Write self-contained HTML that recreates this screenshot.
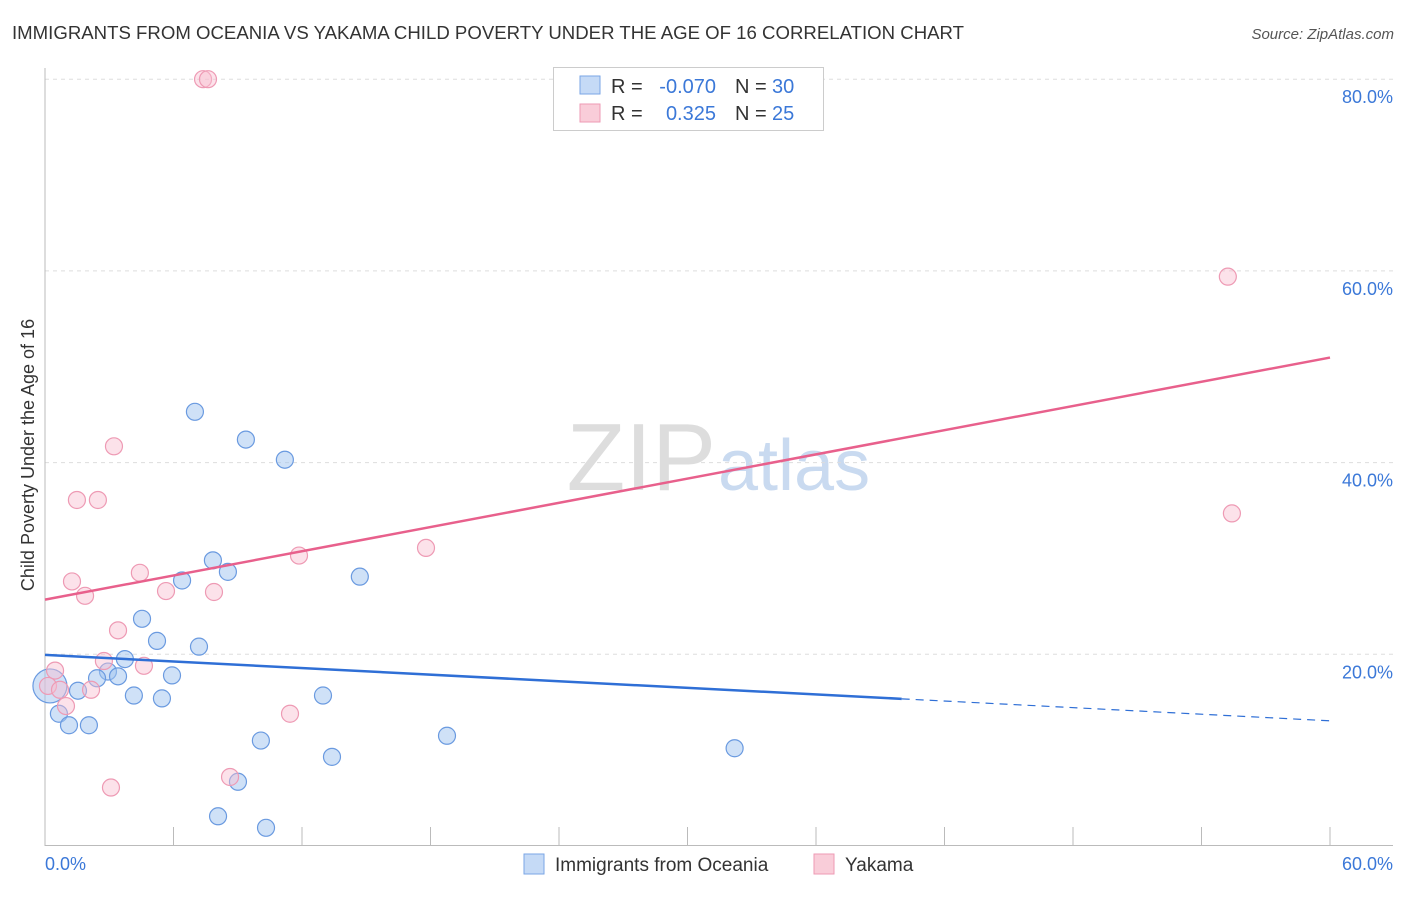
<!DOCTYPE html>
<html><head><meta charset="utf-8"><style>
body{margin:0;background:#fff;font-family:"Liberation Sans",sans-serif;}
svg text{font-family:"Liberation Sans",sans-serif;}
</style></head><body>
<svg id="c" width="1406" height="892">
<text x="12" y="39" font-size="18.6" fill="#333" textLength="952">IMMIGRANTS FROM OCEANIA VS YAKAMA CHILD POVERTY UNDER THE AGE OF 16 CORRELATION CHART</text>
<text x="1394" y="39" font-size="15" fill="#555" font-style="italic" text-anchor="end">Source: ZipAtlas.com</text>
<text x="716" y="490" font-size="96" fill="#ddd" text-anchor="end" font-family="Liberation Serif">ZIP</text>
<text x="718" y="490" font-size="72" fill="#c9daf0">atlas</text>
<g id="grid"></g>
<line x1="45" y1="68" x2="45" y2="846" stroke="#bbb"/>
<line x1="45" y1="845.5" x2="1393" y2="845.5" stroke="#bbb"/>
<text x="34" y="455" font-size="18" fill="#333" text-anchor="middle" transform="rotate(-90 34 455)">Child Poverty Under the Age of 16</text>
<text x="45" y="870" font-size="18" fill="#3b78d8">0.0%</text>
<text x="1393" y="870" font-size="18" fill="#3b78d8" text-anchor="end">60.0%</text>
<g id="marks"></g>
<g>
<rect x="553.5" y="67.5" width="270" height="63" fill="#fff" stroke="#ccc"/>
<rect x="580" y="76" width="20" height="18" fill="#c5daf6" stroke="#7aa6e6"/>
<rect x="580" y="104" width="20" height="18" fill="#f9cdd9" stroke="#ee9ab4"/>
<text x="611" y="93" font-size="20" fill="#333">R =</text>
<text x="716" y="93" font-size="20" fill="#3b78d8" text-anchor="end">-0.070</text>
<text x="735" y="93" font-size="20" fill="#333">N =</text>
<text x="772" y="93" font-size="20" fill="#3b78d8">30</text>
<text x="611" y="120" font-size="20" fill="#333">R =</text>
<text x="716" y="120" font-size="20" fill="#3b78d8" text-anchor="end">0.325</text>
<text x="735" y="120" font-size="20" fill="#333">N =</text>
<text x="772" y="120" font-size="20" fill="#3b78d8">25</text>
</g>
<g>
<rect x="524" y="854" width="20" height="20" fill="#c5daf6" stroke="#7aa6e6"/>
<text x="555" y="871" font-size="19" fill="#333">Immigrants from Oceania</text>
<rect x="814" y="854" width="20" height="20" fill="#f9cdd9" stroke="#ee9ab4"/>
<text x="845" y="871" font-size="19" fill="#333">Yakama</text>
</g>
</svg>
<script>
const yTicks=[20,40,60,80];
const yTickLabels=["20.0%","40.0%","60.0%","80.0%"];
const xTicks=[0,6,12,18,24,30,36,42,48,54,60];
const blueX=[7.0,9.38,11.2,7.84,8.54,6.4,14.7,4.53,5.23,7.19,3.73,2.94,3.41,2.43,5.93,1.54,4.15,5.46,12.98,0.65,1.12,2.05,10.08,18.77,13.4,9.01,8.08,10.32,32.2,0.23];
const blueY=[45.3,42.4,40.3,29.8,28.6,27.7,28.1,23.7,21.4,20.8,19.5,18.2,17.7,17.5,17.8,16.2,15.7,15.4,15.7,13.8,12.6,12.6,11.0,11.5,9.3,6.7,3.1,1.9,10.2,16.7];
const pinkX=[7.38,7.61,55.23,3.22,1.49,2.47,55.42,17.79,11.86,1.26,4.43,1.87,5.65,7.89,3.41,2.75,4.62,0.47,0.14,2.15,0.98,11.44,8.64,3.08,0.7];
const pinkY=[80.0,80.0,59.4,41.7,36.1,36.1,34.7,31.1,30.3,27.6,28.5,26.1,26.6,26.5,22.5,19.3,18.8,18.3,16.7,16.3,14.6,13.8,7.2,6.1,16.3];
const blueTrend=[19.94,13.06]; // value at x=0, x=60
const pinkTrend=[25.7,50.96];
const blueSolidEnd=40;
const sx=v=>45+v*(1285/60), sy=v=>846-v*9.585;
const NS="http://www.w3.org/2000/svg";
function mk(parent,tag,attrs){const e=document.createElementNS(NS,tag);for(const k in attrs)e.setAttribute(k,attrs[k]);parent.appendChild(e);return e;}
const grid=document.getElementById('grid'),marks=document.getElementById('marks');
yTicks.forEach((t,i)=>{
 const l=mk(grid,'line',{x1:45,x2:1393,y1:sy(t),y2:sy(t),stroke:'#ddd','stroke-dasharray':'4,4'});
 
 
 const tx=mk(grid,'text',{x:1393,y:sy(t)+24,'font-size':18,fill:'#3b78d8','text-anchor':'end'});
 tx.textContent=yTickLabels[i];
 
 
});
xTicks.forEach(t=>{
 const l=mk(grid,'line',{x1:sx(t),x2:sx(t),y1:827,y2:846,stroke:'#bbb'});
 
 
});
blueX.forEach((x,i)=>{
 const r=(i==blueX.length-1)?17:8.5;
 const c=mk(marks,'circle',{cx:sx(x),cy:sy(blueY[i]),r:r,fill:'rgba(160,195,240,0.5)',stroke:'#6a9ae0','stroke-width':1.2});
 
 
});
pinkX.forEach((x,i)=>{
 const c=mk(marks,'circle',{cx:sx(x),cy:sy(pinkY[i]),r:8.5,fill:'rgba(248,190,208,0.45)',stroke:'#ee9ab4','stroke-width':1.2});
 
 
});
const bAt=x=>blueTrend[0]+(blueTrend[1]-blueTrend[0])*x/60;
const pAt=x=>pinkTrend[0]+(pinkTrend[1]-pinkTrend[0])*x/60;
const b1=mk(marks,'line',{x1:sx(0),y1:sy(bAt(0)),x2:sx(blueSolidEnd),y2:sy(bAt(blueSolidEnd)),stroke:'#2f6fd6','stroke-width':2.5});


const b2=mk(marks,'line',{x1:sx(blueSolidEnd),y1:sy(bAt(blueSolidEnd)),x2:sx(60),y2:sy(bAt(60)),stroke:'#2f6fd6','stroke-width':1.2,'stroke-dasharray':'8,6'});


const p1=mk(marks,'line',{x1:sx(0),y1:sy(pAt(0)),x2:sx(60),y2:sy(pAt(60)),stroke:'#e8608c','stroke-width':2.5});


</script>
</body></html>
